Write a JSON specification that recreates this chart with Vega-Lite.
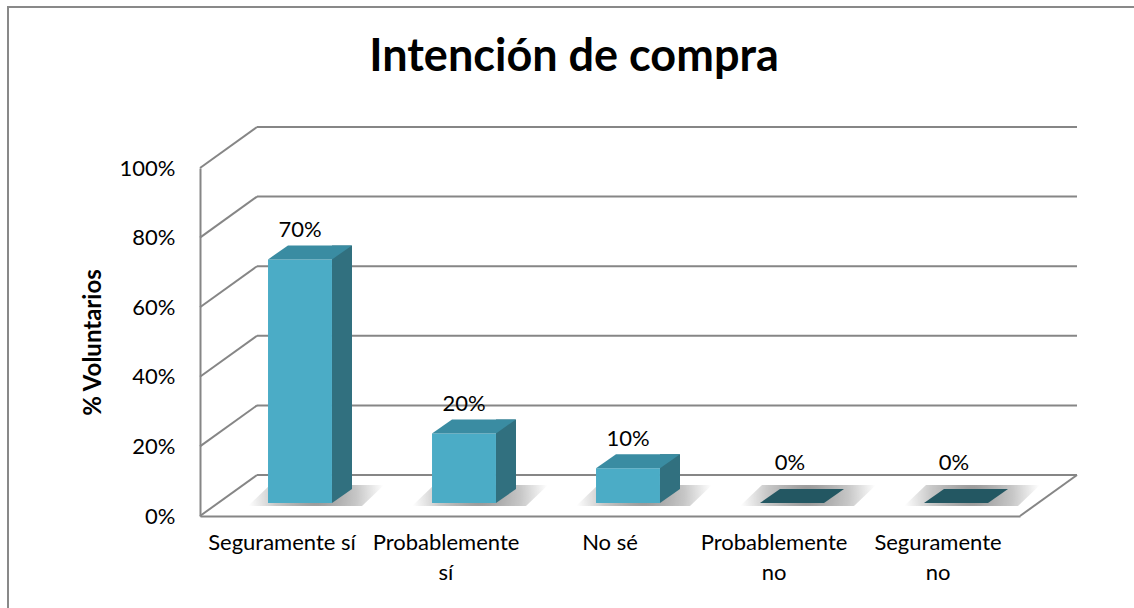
{
  "$schema": "https://vega.github.io/schema/vega-lite/v6.json",
  "autosize": "none",
  "padding": {"left": 200, "top": 168, "right": 114, "bottom": 92},
  "width": 820,
  "height": 348,
  "background": "white",
  "config": {
    "view": {"stroke": null},
    "font": "Lato",
    "axisY": {"domainColor": "#868686", "domainWidth": 2, "ticks": false, "grid": false, "labelPadding": 25, "labelFontSize": 22, "labelFont": "Lato", "labelColor": "#000000", "labelOverlap": false, "labelFlush": false, "titleFont": "Lato", "titleFontSize": 24, "titleFontWeight": "bold", "titleColor": "#000000", "titlePadding": 14, "format": ".0%"},
    "axisX": {"domainColor": "#868686", "domainWidth": 2, "ticks": false, "grid": false, "labelPadding": 16, "labelFontSize": 22, "labelFont": "Lato", "labelColor": "#000000", "labelAngle": 0, "labelLineHeight": 30, "labelOverlap": false, "labelLimit": 300}
  },
  "title": {"text": "Intención de compra", "font": "Lato", "fontSize": 45, "fontWeight": "bold", "color": "#000000", "anchor": "middle", "frame": "group", "dx": -36, "offset": -110, "baseline": "alphabetic"},
  "datasets": {
    "bars": [
      {"respuesta": "Seguramente sí", "pct": 0.7},
      {"respuesta": "Probablemente sí", "pct": 0.2},
      {"respuesta": "No sé", "pct": 0.1},
      {"respuesta": "Probablemente no", "pct": 0},
      {"respuesta": "Seguramente no", "pct": 0}
    ],
    "ticks": [{"t": 0}, {"t": 0.2}, {"t": 0.4}, {"t": 0.6}, {"t": 0.8}, {"t": 1}]
  },
  "resolve": {"scale": {"x": "independent"}, "axis": {"x": "independent"}},
  "layer": [
    {
      "data": {"name": "ticks"},
      "layer": [
        {
          "transform": [{"filter": "datum.t == 0"}],
          "mark": {"type": "rect", "fill": null, "stroke": "#898989", "strokeWidth": 2, "xOffset": -192, "x2Offset": 130, "yOffset": -161, "y2Offset": 110},
          "encoding": {
            "x": {"datum": 0, "type": "quantitative", "scale": {"domain": [0, 1], "nice": false, "zero": false}, "axis": null},
            "x2": {"datum": 1},
            "y": {"datum": 1, "type": "quantitative", "scale": {"domain": [0, 1], "nice": false}, "title": "% Voluntarios", "axis": {"values": [0, 0.2, 0.4, 0.6, 0.8, 1]}},
            "y2": {"datum": 0}
          }
        },
        {
          "mark": {"type": "rule", "color": "#868686", "strokeWidth": 2, "xOffset": 57, "x2Offset": 57, "yOffset": -41},
          "encoding": {
            "x": {"datum": 0, "type": "quantitative", "axis": null},
            "x2": {"datum": 1},
            "y": {"field": "t", "type": "quantitative", "title": "% Voluntarios", "axis": {"values": [0, 0.2, 0.4, 0.6, 0.8, 1]}}
          }
        },
        {
          "mark": {"type": "rule", "color": "#868686", "strokeWidth": 2, "x2Offset": 57, "y2Offset": -41},
          "encoding": {
            "x": {"datum": 0, "type": "quantitative", "axis": null},
            "x2": {"datum": 0},
            "y": {"field": "t", "type": "quantitative", "title": "% Voluntarios", "axis": {"values": [0, 0.2, 0.4, 0.6, 0.8, 1]}},
            "y2": {"field": "t"}
          }
        },
        {
          "transform": [{"filter": "datum.t == 0"}],
          "mark": {"type": "rule", "color": "#868686", "strokeWidth": 2, "x2Offset": 57, "y2Offset": -41},
          "encoding": {
            "x": {"datum": 1, "type": "quantitative", "axis": null},
            "x2": {"datum": 1},
            "y": {"field": "t", "type": "quantitative", "title": "% Voluntarios", "axis": {"values": [0, 0.2, 0.4, 0.6, 0.8, 1]}},
            "y2": {"field": "t"}
          }
        }
      ]
    },
    {
      "data": {"name": "bars"},
      "layer": [
        {
          "mark": {"type": "point", "shape": "M -52 3 L 62 3 L 84 -18 L -30 -18 Z", "size": 4, "filled": true, "opacity": 0.85, "strokeWidth": 0, "xOffset": 18, "yOffset": -13,
            "fill": {"gradient": "radial", "x1": 0.5, "y1": 0.5, "x2": 0.5, "y2": 0.5, "r1": 0, "r2": 0.5, "stops": [{"offset": 0, "color": "#7f7f7f"}, {"offset": 0.6, "color": "#bdbdbd"}, {"offset": 1, "color": "#ffffff"}]}},
          "encoding": {
            "x": {"field": "respuesta", "type": "nominal", "sort": null, "title": null, "scale": {"paddingInner": 0.61, "paddingOuter": 0.305},
              "axis": {"labelExpr": "datum.label == 'Seguramente sí' || datum.label == 'No sé' ? datum.label : split(datum.label, ' ')"}},
            "y": {"datum": 0, "type": "quantitative", "title": "% Voluntarios", "axis": {"values": [0, 0.2, 0.4, 0.6, 0.8, 1]}}
          }
        },
        {
          "transform": [{"filter": "datum.pct > 0"}],
          "mark": {"type": "bar", "color": "#31707f", "width": 20, "xOffset": 60, "yOffset": -27, "y2Offset": -27},
          "encoding": {
            "x": {"field": "respuesta", "type": "nominal", "sort": null, "title": null},
            "y": {"field": "pct", "type": "quantitative", "title": "% Voluntarios", "axis": {"values": [0, 0.2, 0.4, 0.6, 0.8, 1]}},
            "y2": {"datum": 0}
          }
        },
        {
          "transform": [{"filter": "datum.pct > 0"}],
          "mark": {"type": "point", "shape": "M 32 0 L 32 -14 L 52 -14 Z", "size": 4, "filled": true, "opacity": 1, "strokeWidth": 0, "color": "#31707f", "xOffset": 18, "yOffset": -13},
          "encoding": {
            "x": {"field": "respuesta", "type": "nominal", "sort": null, "title": null},
            "y": {"datum": 0, "type": "quantitative", "title": "% Voluntarios", "axis": {"values": [0, 0.2, 0.4, 0.6, 0.8, 1]}}
          }
        },
        {
          "transform": [{"filter": "datum.pct > 0"}],
          "mark": {"type": "bar", "color": "#4bacc6", "xOffset": 18, "yOffset": -13, "y2Offset": -13},
          "encoding": {
            "x": {"field": "respuesta", "type": "nominal", "sort": null, "title": null},
            "y": {"field": "pct", "type": "quantitative", "title": "% Voluntarios", "axis": {"values": [0, 0.2, 0.4, 0.6, 0.8, 1]}},
            "y2": {"datum": 0}
          }
        },
        {
          "mark": {"type": "point", "shape": "M -32 0 L 32 0 L 52 -14 L -12 -14 Z", "size": 4, "filled": true, "opacity": 1, "strokeWidth": 0, "xOffset": 18, "yOffset": -13},
          "encoding": {
            "x": {"field": "respuesta", "type": "nominal", "sort": null, "title": null},
            "y": {"field": "pct", "type": "quantitative", "title": "% Voluntarios", "axis": {"values": [0, 0.2, 0.4, 0.6, 0.8, 1]}},
            "color": {"condition": {"test": "datum.pct == 0", "value": "#235762"}, "value": "#3a8ca2"}
          }
        },
        {
          "transform": [{"filter": "datum.pct > 0"}],
          "mark": {"type": "text", "fontSize": 22, "font": "Lato", "color": "#000000", "baseline": "alphabetic", "align": "center", "xOffset": 18, "yOffset": -35},
          "encoding": {
            "x": {"field": "respuesta", "type": "nominal", "sort": null, "title": null},
            "y": {"field": "pct", "type": "quantitative", "title": "% Voluntarios", "axis": {"values": [0, 0.2, 0.4, 0.6, 0.8, 1]}},
            "text": {"field": "pct", "type": "quantitative", "format": ".0%"}
          }
        },
        {
          "transform": [{"filter": "datum.pct == 0"}],
          "mark": {"type": "text", "fontSize": 22, "font": "Lato", "color": "#000000", "baseline": "alphabetic", "align": "center", "xOffset": 16, "yOffset": -46},
          "encoding": {
            "x": {"field": "respuesta", "type": "nominal", "sort": null, "title": null},
            "y": {"field": "pct", "type": "quantitative", "title": "% Voluntarios", "axis": {"values": [0, 0.2, 0.4, 0.6, 0.8, 1]}},
            "text": {"field": "pct", "type": "quantitative", "format": ".0%"}
          }
        }
      ]
    }
  ]
}
